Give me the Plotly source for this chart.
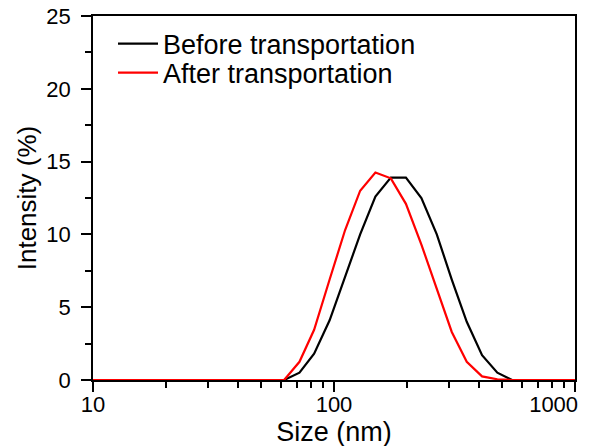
import plotly.graph_objects as go

# Size bins (nm)
size_nm = [10, 62.1, 71.9, 82.7, 95.9, 111.2, 128.4, 148.5, 172.1, 198.8,
           230.5, 267.0, 308.1, 355.5, 411.5, 476.1, 548.0, 1000]

before = [0, 0, 0.5, 1.8, 4.1, 7.1, 10.0, 12.6, 13.9, 13.9,
          12.5, 10.0, 6.9, 4.0, 1.7, 0.5, 0, 0]
after = [0, 0, 1.25, 3.45, 6.9, 10.3, 13.0, 14.25, 13.85, 12.1,
         9.3, 6.2, 3.3, 1.25, 0.25, 0.05, 0, 0]

series_names = ["Before transportation", "After transportation"]
x_tick_vals = [10, 100, 1000]
x_tick_text = ["10", "100", "1000" + "\u00a0" * 7]
y_tick_vals = [0, 5, 10, 15, 20, 25]

FONT = "Arial, Liberation Sans, sans-serif"

fig = go.Figure()
fig.add_trace(go.Scatter(x=size_nm, y=before, mode="lines", name=series_names[0],
                         line=dict(color="black", width=2.2), legend="legend"))
fig.add_trace(go.Scatter(x=size_nm, y=after, mode="lines", name=series_names[1],
                         line=dict(color="#ff0000", width=2.2), legend="legend2"))

leg_common = dict(xanchor="left", yanchor="middle", bgcolor="rgba(0,0,0,0)",
                  font=dict(size=27, family=FONT, color="black"), itemwidth=40)

fig.update_layout(
    width=592, height=446,
    margin=dict(l=85, r=25, t=8, b=74),
    paper_bgcolor="white", plot_bgcolor="white",
    font=dict(family=FONT, color="black", size=22),
    showlegend=True,
    legend=dict(x=0.0415, y=0.923, **leg_common),
    legend2=dict(x=0.0415, y=0.8434, **leg_common),
)
fig.update_xaxes(
    type="log", range=[1, 3], automargin=False,
    showline=True, linecolor="black", linewidth=1.6, mirror=True,
    ticks="outside", ticklen=10, tickwidth=1.6, tickcolor="black",
    ticklabeloverflow="allow", ticklabelstandoff=-6,
    tickvals=x_tick_vals, ticktext=x_tick_text,
    minor=dict(ticks="outside", ticklen=6, tickwidth=1.6, tickcolor="black",
               tickvals=[20, 30, 40, 50, 60, 70, 80, 90,
                         200, 300, 400, 500, 600, 700, 800, 900], showgrid=False),
    showgrid=False, zeroline=False,
    tickfont=dict(size=22),
    title=dict(text="Size (nm)", font=dict(size=27), standoff=0),
)
fig.update_yaxes(
    range=[0, 25], automargin=False,
    showline=True, linecolor="black", linewidth=1.6, mirror=True,
    ticks="outside", ticklen=10, tickwidth=1.6, tickcolor="black",
    ticklabelstandoff=6, ticklabeloverflow="allow",
    tickvals=y_tick_vals,
    minor=dict(ticks="outside", ticklen=6, tickwidth=1.6, tickcolor="black",
               dtick=2.5, showgrid=False),
    showgrid=False, zeroline=False,
    tickfont=dict(size=22),
    title=dict(text="Intensity (%)", font=dict(size=26), standoff=2),
)

fig.write_html("out.html")
